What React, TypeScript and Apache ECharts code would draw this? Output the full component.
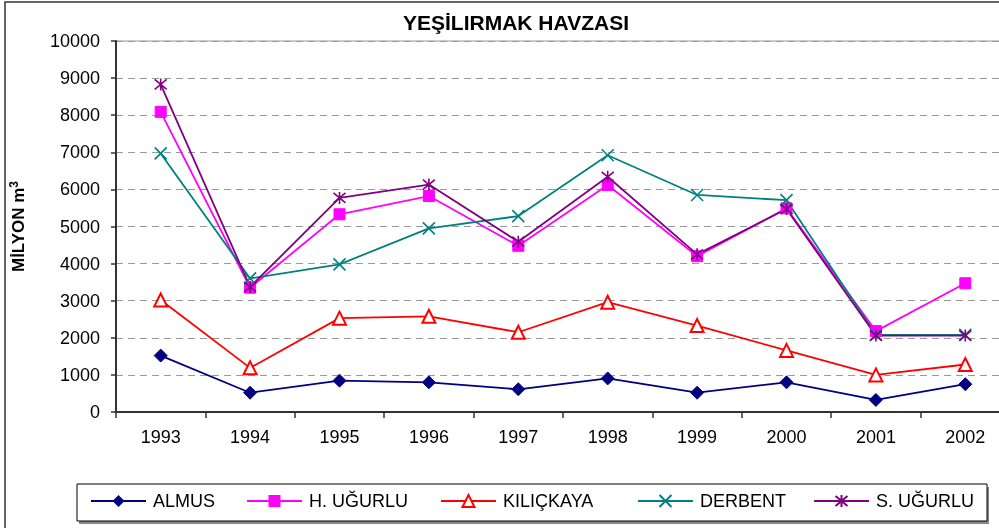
import React, { useEffect, useRef } from "react";
import * as echarts from "echarts";

const years = ["1993", "1994", "1995", "1996", "1997", "1998", "1999", "2000", "2001", "2002"];
const almus = [1520, 520, 845, 800, 612, 905, 520, 800, 325, 750];
const hUgurlu = [8090, 3350, 5330, 5820, 4480, 6120, 4200, 5490, 2180, 3470];
const kilickaya = [3020, 1190, 2530, 2580, 2150, 2960, 2330, 1660, 1000, 1280];
const derbent = [6970, 3600, 3980, 4950, 5280, 6920, 5850, 5710, 2080, 2080];
const sUgurlu = [8830, 3370, 5770, 6130, 4590, 6340, 4250, 5470, 2060, 2060];
const yTicks = { min: 0, max: 10000, interval: 1000 };

const FONT = 'Arial, "Liberation Sans", sans-serif';

export default function App() {
  const ref = useRef<HTMLDivElement>(null);
  useEffect(() => {
    if (!ref.current) return;
    const chart = echarts.init(ref.current, null, { renderer: "svg" });
    const mk = (name: string, data: number[], color: string, symbol: string, size: number, extra: any = {}) => ({
      name,
      type: "line",
      data,
      symbol,
      symbolSize: size,
      showSymbol: true,
      lineStyle: { color, width: 1.8 },
      itemStyle: { color, borderColor: color, ...extra },
      emphasis: { disabled: true },
    });
    const names = ["ALMUS", "H. UĞURLU", "KILIÇKAYA", "DERBENT", "S. UĞURLU"];
    const legendLefts = [90, 246, 440, 637, 813];
    chart.setOption({
      animation: false,
      title: {
        text: "YEŞİLIRMAK HAVZASI",
        left: 511,
        textAlign: "center",
        top: 7,
        textStyle: { fontFamily: FONT, fontSize: 21, fontWeight: "bold", color: "#000" },
      },
      graphic: [
        { type: "rect", shape: { x: 5, y: 2, width: 1100, height: 600 }, style: { fill: "none", stroke: "#333", lineWidth: 1.5 }, z: -1 },
        { type: "line", shape: { x1: 116, y1: 41, x2: 1020, y2: 41 }, style: { stroke: "#999", lineWidth: 1 }, z: -1 },
        { type: "rect", shape: { x: 79, y: 487, width: 910, height: 37 }, style: { fill: "#888", stroke: "none" }, z: 0 },
        { type: "rect", shape: { x: 77, y: 484, width: 910, height: 37 }, style: { fill: "#fff", stroke: "#000", lineWidth: 1 }, z: 1 },
      ],
      legend: names.map((n, i) => ({
        data: [n],
        left: legendLefts[i],
        top: 492,
        padding: 0,
        itemWidth: 55,
        itemHeight: 15,
        itemGap: 4,
        z: 5,
        textStyle: { fontFamily: FONT, fontSize: 18, color: "#000", padding: [0, 0, 0, 2] },
      })),
      grid: { left: 116, top: 41, width: 894, height: 371 },
      xAxis: {
        type: "category",
        data: years,
        boundaryGap: true,
        axisLine: { lineStyle: { color: "#333", width: 2 } },
        axisTick: { show: true, length: 6, lineStyle: { color: "#333", width: 1.5 } },
        axisLabel: { fontFamily: FONT, fontSize: 18, color: "#000", margin: 16 },
        splitLine: { show: false },
      },
      yAxis: {
        type: "value",
        min: yTicks.min,
        max: yTicks.max,
        interval: yTicks.interval,
        name: "MİLYON m{sup|3}",
        nameLocation: "middle",
        nameGap: 88,
        nameRotate: 90,
        nameTextStyle: {
          fontFamily: FONT,
          fontSize: 17,
          fontWeight: "bold",
          color: "#000",
          rich: { sup: { fontFamily: FONT, fontSize: 12, fontWeight: "bold", color: "#000", verticalAlign: "top", padding: [0, 0, 8, 0] } },
        },
        axisLine: { show: true, lineStyle: { color: "#333", width: 2 } },
        axisTick: { show: true, length: 5, lineStyle: { color: "#333", width: 1.5 } },
        axisLabel: { fontFamily: FONT, fontSize: 18, color: "#000", margin: 16, formatter: (v: number) => String(v) },
        splitLine: { show: true, lineStyle: { color: "#999", type: [7, 5], width: 1 } },
      },
      series: [
        mk("ALMUS", almus, "#000080", "diamond", 13),
        mk("H. UĞURLU", hUgurlu, "#FF00FF", "rect", 11),
        mk("KILIÇKAYA", kilickaya, "#FF0000", "emptyTriangle", 13, { borderWidth: 1.8 }),
        mk("DERBENT", derbent, "#008080", "path://M0,0L10,10M10,0L0,10", 12, { borderWidth: 1.6 }),
        mk("S. UĞURLU", sUgurlu, "#800080", "path://M0,0L10,10M10,0L0,10M5,-1L5,11", 12, { borderWidth: 1.6 }),
      ],
    });
    return () => chart.dispose();
  }, []);
  return (
    <div style={{ position: "fixed", left: 0, top: 0, width: 999, height: 528, overflow: "hidden" }}>
      <div ref={ref} style={{ width: 1020, height: 528 }} />
    </div>
  );
}
